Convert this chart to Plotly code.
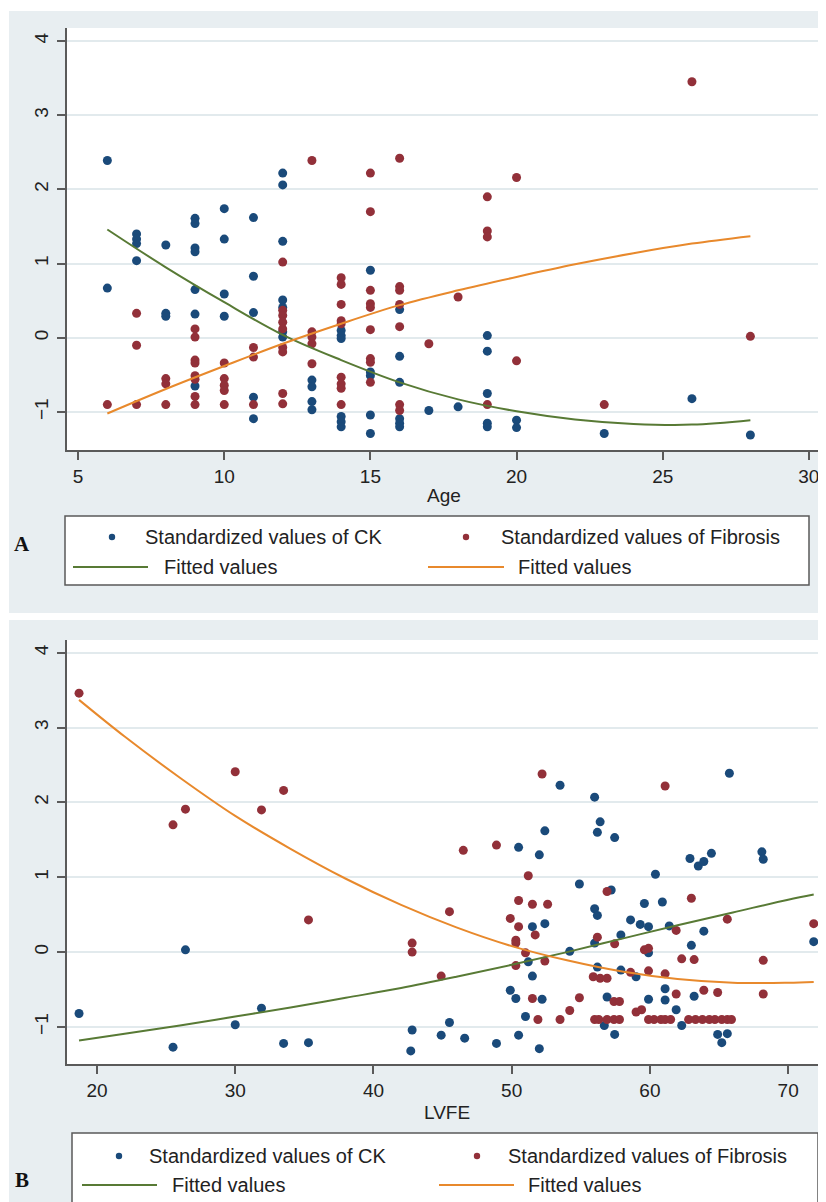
import plotly.graph_objects as go

# ---------------- Panel A data (Age) ----------------
ck_age = [6, 6, 7, 7, 7, 7, 8, 8, 8, 9, 9, 9, 9, 9, 9, 9, 10, 10, 10, 10,
          11, 11, 11, 11, 11, 12, 12, 12, 12, 12, 12, 12, 13, 13, 13, 13,
          14, 14, 14, 14, 14, 14, 15, 15, 15, 15, 15, 16, 16, 16, 16, 16, 16,
          17, 18, 19, 19, 19, 19, 19, 20, 20, 23, 26, 28]
ck_A = [2.39, 0.67, 1.40, 1.33, 1.27, 1.04, 1.25, 0.33, 0.29,
        1.61, 1.54, 1.21, 1.16, 0.65, 0.32, -0.65, 1.74, 1.33, 0.59, 0.29,
        1.62, 0.83, 0.34, -0.80, -1.09, 2.22, 2.06, 1.30, 0.51, 0.41, 0.08, 0.01,
        -0.57, -0.66, -0.86, -0.97, 0.10, 0.03, -0.01, -1.06, -1.13, -1.20,
        0.91, -0.46, -0.51, -1.04, -1.29, 0.38, -0.25, -0.60, -1.09, -1.15, -1.20,
        -0.98, -0.93, 0.03, -0.18, -0.75, -1.15, -1.20, -1.11, -1.21, -1.29, -0.82, -1.31]

fib_age = [6, 7, 7, 7, 8, 8, 8, 9, 9, 9, 9, 9, 9, 9, 9, 10, 10, 10, 10, 10,
           11, 11, 11, 12, 12, 12, 12, 12, 12, 12, 12, 12, 13, 13, 13, 13, 13,
           14, 14, 14, 14, 14, 14, 14, 14, 14, 15, 15, 15, 15, 15, 15, 15, 15, 15,
           16, 16, 16, 16, 16, 16, 16, 17, 18, 19, 19, 19, 19, 20, 20, 23, 26, 28]
fib_A = [-0.90, 0.33, -0.10, -0.90, -0.55, -0.62, -0.90,
         0.12, 0.01, -0.30, -0.34, -0.51, -0.56, -0.79, -0.90,
         -0.34, -0.55, -0.64, -0.71, -0.90, -0.13, -0.26, -0.90,
         1.02, 0.37, 0.30, 0.21, 0.12, -0.13, -0.19, -0.75, -0.89,
         2.39, 0.08, 0.01, -0.08, -0.35,
         0.81, 0.72, 0.45, 0.23, 0.19, -0.53, -0.62, -0.68, -0.90,
         2.22, 1.70, 0.64, 0.46, 0.41, 0.11, -0.28, -0.33, -0.60,
         2.42, 0.69, 0.64, 0.45, 0.15, -0.90, -0.98,
         -0.08, 0.55, 1.90, 1.44, 1.36, -0.90, 2.16, -0.31, -0.90, 3.45, 0.02]

fitA_x = [6, 8, 10, 12, 14, 16, 18, 20, 22, 24, 26, 28]
fitA_ck = [1.46, 0.95, 0.48, 0.04, -0.30, -0.60, -0.83, -0.99, -1.10, -1.16, -1.17, -1.11]
fitA_fib = [-1.02, -0.69, -0.38, -0.08, 0.19, 0.44, 0.64, 0.82, 0.99, 1.14, 1.27, 1.37]

# ---------------- Panel B data (LVFE) ----------------
ck_lvfe = [18.7, 26.4, 25.5, 30.0, 31.9, 33.5, 35.3, 42.8, 42.7, 44.9, 45.5, 46.6, 48.9,
           50.5, 49.9, 50.3, 50.5, 51.2, 51.0, 51.5, 51.5, 52.0, 52.0, 52.4, 52.4, 52.2,
           53.5, 54.2, 54.9, 56.0, 56.4, 56.2, 57.45, 57.2, 56.0, 56.2, 56.0, 56.2, 56.9,
           56.7, 57.45, 57.9, 57.9, 59.0, 58.6, 59.3, 59.9, 59.6, 59.9, 59.9, 60.4, 60.9,
           61.1, 61.1, 61.4, 61.9, 62.3, 62.9, 63.5, 63.9, 64.45, 63.0, 63.2, 63.9, 65.75,
           64.9, 65.6, 65.2, 68.1, 68.2, 71.85]
ck_B = [-0.82, 0.03, -1.27, -0.97, -0.75, -1.22, -1.21, -1.04, -1.32, -1.11, -0.94, -1.15, -1.22,
        1.40, -0.51, -0.62, -1.11, -0.13, -0.86, 0.34, -0.32, -1.29, 1.30, 1.62, 0.38, -0.63,
        2.23, 0.01, 0.91, 2.07, 1.74, 1.60, 1.53, 0.83, 0.58, 0.49, 0.12, -0.20, -0.60,
        -0.98, -1.10, 0.23, -0.24, -0.33, 0.43, 0.37, 0.34, 0.65, -0.01, -0.63, 1.04, 0.67,
        -0.49, -0.64, 0.35, -0.77, -0.98, 1.25, 1.15, 1.21, 1.32, 0.09, -0.59, 0.28, 2.39,
        -1.10, -1.09, -1.21, 1.34, 1.24, 0.14]

fib_lvfe = [18.7, 25.5, 26.4, 30.0, 31.9, 33.5, 35.3, 42.8, 42.8, 44.9, 45.5, 46.5, 48.9,
            49.9, 50.5, 50.5, 50.3, 50.3, 50.3, 51.0, 51.2, 51.5, 51.7, 51.5, 51.9, 52.2,
            52.6, 52.4, 53.5, 54.2, 54.9, 56.9, 56.2, 57.45, 55.9, 56.4, 56.9, 57.4, 57.8,
            56.0, 56.3, 56.9, 57.4, 57.8, 58.6, 59.0, 59.4, 59.6, 59.9, 59.9, 59.9, 60.3,
            60.8, 61.1, 61.5, 61.1, 61.1, 61.9, 61.9, 62.3, 63.2, 63.0, 63.9, 64.9,
            62.8, 63.3, 63.8, 64.3, 64.7, 65.2, 65.6, 65.9, 65.6, 68.2, 68.2, 71.85]
fib_B = [3.46, 1.70, 1.91, 2.41, 1.90, 2.16, 0.43, 0.12, 0.00, -0.32, 0.54, 1.36, 1.43,
         0.45, 0.69, 0.34, 0.16, 0.12, -0.18, -0.01, 1.02, 0.64, 0.23, -0.62, -0.90, 2.38,
         0.64, -0.12, -0.90, -0.78, -0.61, 0.81, 0.20, 0.11, -0.33, -0.35, -0.35, -0.66, -0.66,
         -0.90, -0.90, -0.90, -0.90, -0.90, -0.27, -0.80, -0.77, 0.03, 0.05, -0.25, -0.90, -0.90,
         -0.90, -0.90, -0.90, 2.22, -0.29, 0.29, -0.56, -0.09, -0.10, 0.72, -0.51, -0.54,
         -0.90, -0.90, -0.90, -0.90, -0.90, -0.90, -0.90, -0.90, 0.44, -0.11, -0.56, 0.38]

fitB_x = [18.7, 22, 26, 30, 34, 38, 42, 46, 50, 54, 58, 62, 66, 70, 71.85]
fitB_ck = [-1.18, -1.09, -0.98, -0.86, -0.74, -0.61, -0.48, -0.33, -0.17, 0.00, 0.18, 0.36, 0.53, 0.70, 0.77]
fitB_fib = [3.37, 2.88, 2.33, 1.82, 1.38, 0.98, 0.63, 0.33, 0.08, -0.11, -0.26, -0.36, -0.41, -0.41, -0.40]

# ---------------- Styling ----------------
PAGE_W, PAGE_H = 826, 1202
OFF = 8                      # default body margin of the HTML page
W, H = PAGE_W - OFF, PAGE_H - OFF
BLUE = "#1a4a7a"
RED = "#923039"
GREEN = "#587a35"
ORANGE = "#e8892c"
BG = "#e8eef1"
FONT = "Liberation Sans, Arial, sans-serif"

def X(px):
    return (px - OFF) / W

def Y(py):
    return 1 - (py - OFF) / H

fig = go.Figure()

mk = dict(size=9, line=dict(width=0))
fig.add_trace(go.Scatter(x=ck_age, y=ck_A, mode="markers", marker=dict(color=BLUE, **mk),
                         xaxis="x", yaxis="y", showlegend=False))
fig.add_trace(go.Scatter(x=fib_age, y=fib_A, mode="markers", marker=dict(color=RED, **mk),
                         xaxis="x", yaxis="y", showlegend=False))
fig.add_trace(go.Scatter(x=fitA_x, y=fitA_ck, mode="lines", line=dict(color=GREEN, width=2, shape="spline"),
                         xaxis="x", yaxis="y", showlegend=False))
fig.add_trace(go.Scatter(x=fitA_x, y=fitA_fib, mode="lines", line=dict(color=ORANGE, width=2, shape="spline"),
                         xaxis="x", yaxis="y", showlegend=False))

fig.add_trace(go.Scatter(x=ck_lvfe, y=ck_B, mode="markers", marker=dict(color=BLUE, **mk),
                         xaxis="x2", yaxis="y2", showlegend=False))
fig.add_trace(go.Scatter(x=fib_lvfe, y=fib_B, mode="markers", marker=dict(color=RED, **mk),
                         xaxis="x2", yaxis="y2", showlegend=False))
fig.add_trace(go.Scatter(x=fitB_x, y=fitB_ck, mode="lines", line=dict(color=GREEN, width=2, shape="spline"),
                         xaxis="x2", yaxis="y2", showlegend=False))
fig.add_trace(go.Scatter(x=fitB_x, y=fitB_fib, mode="lines", line=dict(color=ORANGE, width=2, shape="spline"),
                         xaxis="x2", yaxis="y2", showlegend=False))

axis_common = dict(showline=True, linecolor="#5a5a5a", linewidth=1.5, ticks="outside",
                   ticklen=8, tickwidth=1.5, tickcolor="#5a5a5a",
                   tickfont=dict(family=FONT, size=19, color="#222"), zeroline=False)

xdom = [X(67), X(822)]
fig.update_layout(
    width=W, height=H, margin=dict(l=0, r=0, t=0, b=0),
    paper_bgcolor=BG, plot_bgcolor="white",
    xaxis=dict(domain=xdom, range=[4.62, 30.45], tickvals=[5, 10, 15, 20, 25, 30],
               showgrid=False, anchor="y", ticklabelstandoff=0, **axis_common),
    yaxis=dict(domain=[Y(450), Y(28)], range=[-1.512, 4.175], tickvals=[-1, 0, 1, 2, 3, 4],
               showgrid=True, gridcolor="#e2eaed", gridwidth=1.5, tickangle=-90,
               anchor="x", ticklabelstandoff=2, **axis_common),
    xaxis2=dict(domain=xdom, range=[17.83, 72.45], tickvals=[20, 30, 40, 50, 60, 70],
                showgrid=False, anchor="y2", ticklabelstandoff=0, **axis_common),
    yaxis2=dict(domain=[Y(1064), Y(640)], range=[-1.495, 4.17], tickvals=[-1, 0, 1, 2, 3, 4],
                showgrid=True, gridcolor="#e2eaed", gridwidth=1.5, tickangle=-90,
                anchor="x2", ticklabelstandoff=2, **axis_common),
)

shapes = []
# white strips separating the light panels (page margin supplies the rest)
for (x0, y0, x1, y1) in [(8, 8, 9, PAGE_H), (8, 8, PAGE_W, 11), (8, 613, PAGE_W, 620)]:
    shapes.append(dict(type="rect", xref="paper", yref="paper", x0=X(x0), x1=X(x1),
                       y0=Y(y1), y1=Y(y0), fillcolor="white", line=dict(width=0), layer="below"))

# legend boxes
legends = [
    dict(box=(65, 516, 809, 585), r1=537, r2=567, label="A", label_y=544,
         ck_m=112, ck_t=143, g0=73, g1=148, g_t=162, fb_m=466, fb_t=499, o0=428, o1=504, o_t=516),
    dict(box=(72, 1133, 818, 1215), r1=1156, r2=1185, label="B", label_y=1180,
         ck_m=119, ck_t=147, g0=82, g1=157, g_t=170, fb_m=477, fb_t=506, o0=439, o1=514, o_t=526),
]
annotations = []
for lg in legends:
    bx0, by0, bx1, by1 = lg["box"]
    shapes.append(dict(type="rect", xref="paper", yref="paper", x0=X(bx0), x1=X(bx1),
                       y0=Y(by1), y1=Y(by0), fillcolor="white",
                       line=dict(color="#5a5a5a", width=1.5)))
    r = 3.2
    for cx, col in [(lg["ck_m"], BLUE), (lg["fb_m"], RED)]:
        shapes.append(dict(type="circle", xref="paper", yref="paper",
                           x0=X(cx - r), x1=X(cx + r), y0=Y(lg["r1"] + r), y1=Y(lg["r1"] - r),
                           fillcolor=col, line=dict(width=0)))
    for a, b, col in [(lg["g0"], lg["g1"], GREEN), (lg["o0"], lg["o1"], ORANGE)]:
        shapes.append(dict(type="line", xref="paper", yref="paper", x0=X(a), x1=X(b),
                           y0=Y(lg["r2"]), y1=Y(lg["r2"]), line=dict(color=col, width=2)))
    for tx, ty, txt in [(lg["ck_t"], lg["r1"], "Standardized values of CK"),
                        (lg["fb_t"], lg["r1"], "Standardized values of Fibrosis"),
                        (lg["g_t"], lg["r2"], "Fitted values"),
                        (lg["o_t"], lg["r2"], "Fitted values")]:
        annotations.append(dict(x=X(tx), y=Y(ty), xref="paper", yref="paper", text=txt,
                                showarrow=False, xanchor="left", yanchor="middle",
                                font=dict(family=FONT, size=20, color="#222")))
    annotations.append(dict(x=X(22), y=Y(lg["label_y"]), xref="paper", yref="paper",
                            text="<b>%s</b>" % lg["label"], showarrow=False,
                            xanchor="center", yanchor="middle",
                            font=dict(family="Liberation Serif, Times New Roman, serif", size=21, color="#111")))

# axis titles
annotations.append(dict(x=X(444), y=Y(495), xref="paper", yref="paper", text="Age", showarrow=False,
                        xanchor="center", yanchor="middle", font=dict(family=FONT, size=19, color="#222")))
annotations.append(dict(x=X(447), y=Y(1112), xref="paper", yref="paper", text="LVFE", showarrow=False,
                        xanchor="center", yanchor="middle", font=dict(family=FONT, size=19, color="#222")))

fig.update_layout(shapes=shapes, annotations=annotations)
fig.write_html("out.html")
